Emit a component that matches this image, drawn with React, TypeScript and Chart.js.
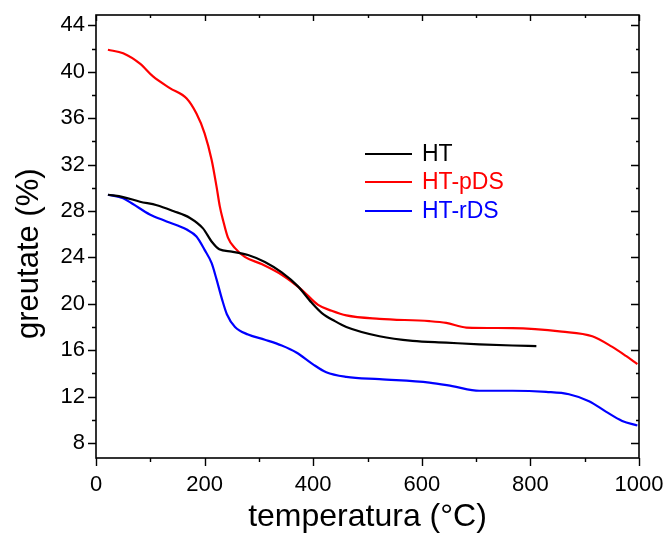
import React, { useEffect, useRef } from 'react';
import { Chart, registerables } from 'chart.js';

Chart.register(...registerables);

// ---- data ----
const htTemp = [22, 50, 81, 112, 142, 173, 197, 214, 227, 250, 280, 311, 342, 372, 397, 416, 440, 461, 522, 583, 645, 706, 767, 811];
const htMass = [29.4, 29.2, 28.8, 28.5, 28.0, 27.4, 26.5, 25.3, 24.7, 24.5, 24.2, 23.6, 22.7, 21.5, 20.1, 19.2, 18.5, 18.0, 17.2, 16.8, 16.65, 16.5, 16.4, 16.35];

const pdsTemp = [22, 50, 81, 105, 136, 167, 185, 200, 213, 222, 228, 234, 243, 256, 274, 306, 342, 379, 409, 434, 461, 522, 614, 645, 682, 767, 858, 914, 950, 976, 997];
const pdsMass = [41.9, 41.6, 40.7, 39.6, 38.6, 37.7, 36.4, 34.7, 32.4, 30.1, 28.4, 27.2, 25.7, 24.8, 24.05, 23.4, 22.5, 21.2, 19.9, 19.4, 19.0, 18.7, 18.5, 18.35, 17.95, 17.9, 17.6, 17.2, 16.3, 15.5, 14.8];

const rdsTemp = [22, 50, 68, 99, 130, 167, 185, 200, 213, 222, 232, 241, 256, 280, 311, 342, 369, 399, 424, 461, 522, 614, 656, 706, 767, 829, 871, 908, 939, 969, 997];
const rdsMass = [29.4, 29.1, 28.6, 27.7, 27.1, 26.4, 25.8, 24.65, 23.5, 22.1, 20.4, 19.1, 18.0, 17.35, 16.9, 16.4, 15.8, 14.8, 14.1, 13.7, 13.5, 13.2, 12.9, 12.5, 12.5, 12.4, 12.2, 11.6, 10.7, 9.9, 9.5];

const seriesLabels = ['HT', 'HT-pDS', 'HT-rDS'];
const seriesColors = ['#000000', '#ff0000', '#0000ff'];

const xTickValues = [0, 200, 400, 600, 800, 1000];
const yTickValues = [8, 12, 16, 20, 24, 28, 32, 36, 40, 44];
const xMinorStep = 100;
const yMinorStep = 2;

const FONT = '"Liberation Sans", Arial, Helvetica, sans-serif';

const toPoints = (xs: number[], ys: number[]) => xs.map((x, i) => ({ x, y: ys[i] }));

const framePlugin = {
  id: 'frameTicksLegend',
  afterDraw(chart: any) {
    const { ctx, chartArea, scales } = chart;
    const { left, right, top, bottom } = chartArea;
    const xs = scales.x;
    const ys = scales.y;
    ctx.save();
    ctx.strokeStyle = '#000';
    ctx.lineWidth = 1.6;
    ctx.strokeRect(left, top, right - left, bottom - top);
    ctx.lineWidth = 1.4;
    // x ticks
    for (let v = xs.min; v <= xs.max + 1e-6; v += xMinorStep) {
      if (v < 0) continue;
      const px = Math.round(xs.getPixelForValue(v)) + 0.5;
      const major = xTickValues.includes(v);
      const len = major ? 8 : 4;
      ctx.beginPath();
      ctx.moveTo(px, bottom);
      ctx.lineTo(px, bottom + len);
      ctx.moveTo(px, top);
      ctx.lineTo(px, top + (major ? 6 : 3));
      ctx.stroke();
    }
    // y ticks
    for (let v = 8; v <= ys.max + 1e-6; v += yMinorStep) {
      const py = Math.round(ys.getPixelForValue(v)) + 0.5;
      const major = yTickValues.includes(v);
      const len = major ? 8 : 4;
      ctx.beginPath();
      ctx.moveTo(left, py);
      ctx.lineTo(left - len, py);
      ctx.moveTo(right, py);
      ctx.lineTo(right - (major ? 8 : 3), py);
      ctx.stroke();
    }
    // legend
    const lx0 = 365, lx1 = 412, tx = 422;
    const rowY = [154, 182, 211];
    ctx.font = '23px ' + FONT;
    ctx.textBaseline = 'middle';
    ctx.textAlign = 'left';
    chart.data.datasets.forEach((ds: any, i: number) => {
      ctx.strokeStyle = ds.borderColor;
      ctx.lineWidth = 2;
      ctx.beginPath();
      ctx.moveTo(lx0, rowY[i]);
      ctx.lineTo(lx1, rowY[i]);
      ctx.stroke();
      ctx.fillStyle = ds.borderColor;
      ctx.fillText(ds.label, tx, rowY[i] + 1);
    });
    ctx.restore();
  },
};

export default function App() {
  const canvasRef = useRef<HTMLCanvasElement | null>(null);

  useEffect(() => {
    const canvas = canvasRef.current;
    if (!canvas) return;
    const chart = new Chart(canvas, {
      type: 'line',
      data: {
        datasets: [
          { label: seriesLabels[0], data: toPoints(htTemp, htMass), borderColor: seriesColors[0] },
          { label: seriesLabels[1], data: toPoints(pdsTemp, pdsMass), borderColor: seriesColors[1] },
          { label: seriesLabels[2], data: toPoints(rdsTemp, rdsMass), borderColor: seriesColors[2] },
        ].map((d) => ({
          ...d,
          backgroundColor: d.borderColor,
          borderWidth: 2.2,
          pointRadius: 0,
          fill: false,
          cubicInterpolationMode: 'monotone' as const,
        })),
      },
      options: {
        responsive: false,
        animation: false,
        events: [],
        layout: { padding: { top: 15, right: 28, left: 0, bottom: 0 } },
        plugins: {
          legend: { display: false },
          tooltip: { enabled: false },
        },
        scales: {
          x: {
            type: 'linear',
            min: 0,
            max: 1000,
            afterBuildTicks: (s: any) => {
              s.ticks = xTickValues.map((v) => ({ value: v }));
            },
            afterFit: (s: any) => {
              s.height = 79;
              s.paddingLeft = 0;
              s.paddingRight = 0;
            },
            grid: { display: false, drawTicks: false },
            border: { display: false },
            ticks: {
              color: '#000',
              padding: 14,
              maxRotation: 0,
              autoSkip: false,
              callback: (v: any) => String(v),
              font: { family: FONT, size: 22 },
            },
            title: {
              display: true,
              text: 'temperatura (°C)',
              color: '#000',
              font: { family: FONT, size: 32 },
              padding: { top: 0, bottom: 1 },
            },
          },
          y: {
            type: 'linear',
            min: 6.7,
            max: 44.9,
            afterBuildTicks: (s: any) => {
              s.ticks = yTickValues.map((v) => ({ value: v }));
            },
            afterFit: (s: any) => {
              s.width = 96;
              s.paddingTop = 0;
              s.paddingBottom = 0;
            },
            grid: { display: false, drawTicks: false },
            border: { display: false },
            ticks: {
              color: '#000',
              padding: 11,
              autoSkip: false,
              callback: (v: any) => String(v),
              font: { family: FONT, size: 22 },
            },
            title: {
              display: true,
              text: 'greutate (%)    ',
              color: '#000',
              font: { family: FONT, size: 31 },
              padding: { top: 11, bottom: 0 },
            },
          },
        },
      },
      plugins: [framePlugin],
    });
    return () => chart.destroy();
  }, []);

  return (
    <div style={{ position: 'fixed', left: 0, top: 0, width: 667, height: 537, background: '#fff' }}>
      <canvas ref={canvasRef} width={667} height={537} style={{ display: 'block' }} />
    </div>
  );
}
